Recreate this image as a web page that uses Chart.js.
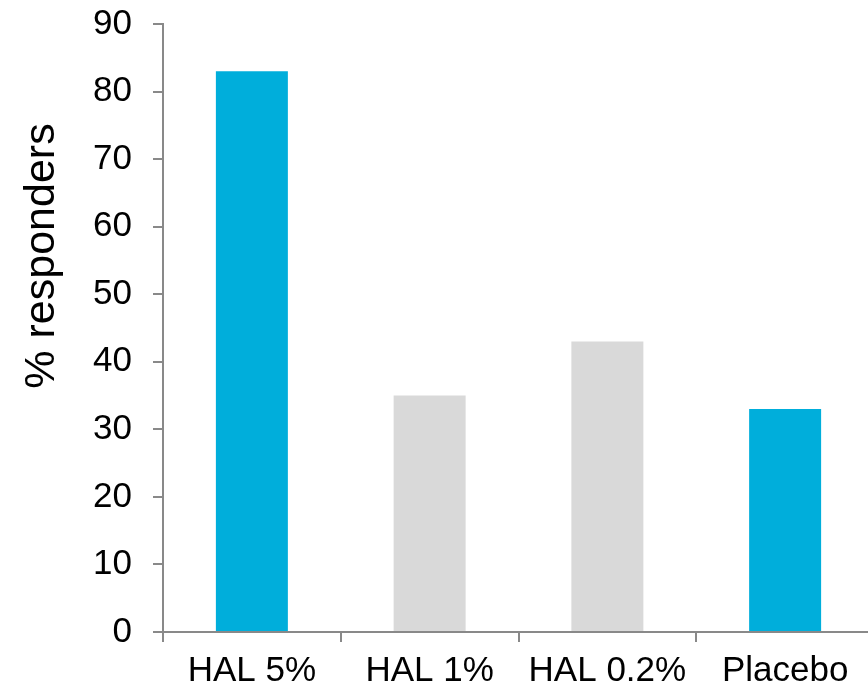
<!DOCTYPE html>
<html>
<head>
<meta charset="utf-8">
<script src="https://cdn.jsdelivr.net/npm/chart.js@4/dist/chart.umd.min.js"></script>
<style>
  html, body { margin: 0; padding: 0; background: #fff; overflow: hidden; }
  canvas { display: block; }
</style>
</head>
<body>
<canvas id="respChart" width="876" height="690"></canvas>
<script>
// Dados do gráfico
const categories = ['HAL 5%', 'HAL 1%', 'HAL 0.2%', 'Placebo'];
const responders = [83, 35, 43, 33];
const barColors = ['#00AEDB', '#D9D9D9', '#D9D9D9', '#00AEDB'];
const yTicks = [0, 10, 20, 30, 40, 50, 60, 70, 80, 90];
const yTitle = '% responders';

const axisGray = '#898989';
const fontFamily = '"Liberation Sans", Arial, sans-serif';
const font = { family: fontFamily, size: 35 };

// Título do eixo Y desenhado à mão (fica acima do centro do eixo)
const yTitlePlugin = {
    id: 'yTitle',
    afterDraw(chart) {
        const c = chart.ctx;
        const area = chart.chartArea;
        c.save();
        c.translate(42, area.top + 232);
        c.rotate(-Math.PI / 2);
        c.font = '43px ' + fontFamily;
        c.fillStyle = '#000';
        c.textAlign = 'center';
        c.textBaseline = 'middle';
        c.fillText(yTitle, 0, 0);
        c.restore();
    }
};

const ctx = document.getElementById('respChart').getContext('2d');

new Chart(ctx, {
    type: 'bar',
    data: {
        labels: categories,
        datasets: [{
            data: responders,
            backgroundColor: barColors,
            borderWidth: 0,
            barPercentage: 0.405,
            categoryPercentage: 1
        }]
    },
    plugins: [yTitlePlugin],
    options: {
        responsive: false,
        animation: false,
        layout: { padding: { top: 24, right: 2, left: 0, bottom: 0 } },
        plugins: { legend: { display: false }, tooltip: { enabled: false } },
        scales: {
            x: {
                grid: {
                    offset: true,
                    drawOnChartArea: false,
                    drawTicks: true,
                    tickLength: 10,
                    color: axisGray,
                    lineWidth: 2
                },
                border: { color: axisGray, width: 2 },
                ticks: { color: '#000', font: font, padding: 8, maxRotation: 0 },
                afterFit: s => { s.height = 58; }
            },
            y: {
                min: 0,
                max: 90,
                afterBuildTicks: s => { s.ticks = yTicks.map(v => ({ value: v })); },
                grid: {
                    drawOnChartArea: false,
                    drawTicks: true,
                    tickLength: 10,
                    color: axisGray,
                    lineWidth: 2
                },
                border: { color: axisGray, width: 2 },
                ticks: { color: '#000', font: { family: fontFamily, size: 35, lineHeight: 0.1 }, padding: 21 },
                afterFit: s => { s.width = 163; }
            }
        }
    }
});
</script>
</body>
</html>
